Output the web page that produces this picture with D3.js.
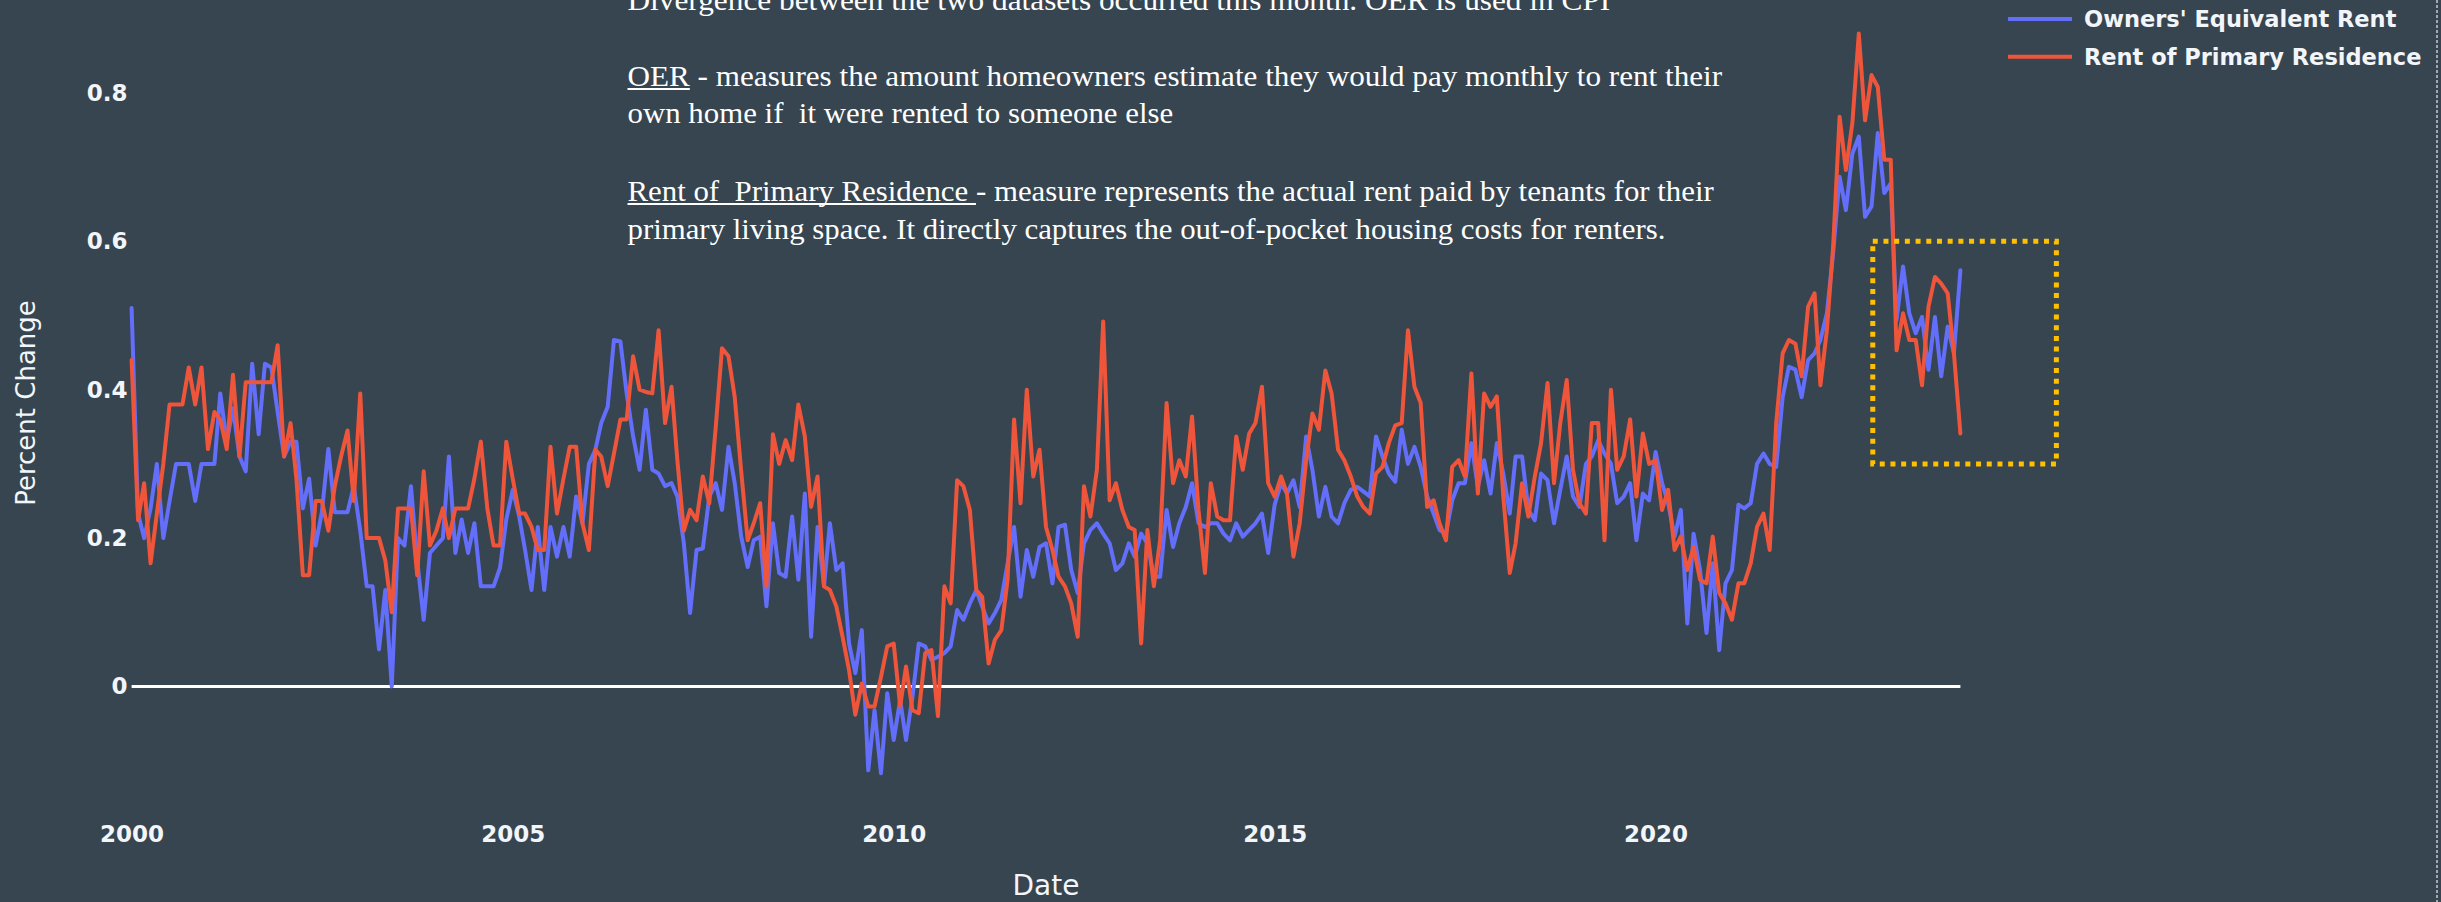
<!DOCTYPE html>
<html>
<head>
<meta charset="utf-8">
<script src="https://cdn.jsdelivr.net/npm/d3@7"></script>
<style>
html,body{margin:0;padding:0;background:#36454f;overflow:hidden}
</style>
</head>
<body>
<svg id="chart" width="2441" height="902"></svg>
<script>
// ---------- DATA (monthly, Jan 2000 .. Jan 2024) ----------
const startYear = 2000;
const seriesNames = ["Owners' Equivalent Rent", "Rent of Primary Residence"];
const oer = [
 0.51,0.233,0.20,0.24,0.30,0.20,0.25,0.30,0.30,0.30,0.25,0.30,
 0.30,0.30,0.395,0.33,0.375,0.31,0.29,0.435,0.34,0.435,0.43,0.37,
 0.31,0.33,0.33,0.24,0.28,0.19,0.235,0.32,0.235,0.235,0.235,0.27,
 0.21,0.135,0.135,0.05,0.13,0.0,0.20,0.19,0.27,0.17,0.09,0.18,
 0.19,0.20,0.31,0.18,0.225,0.18,0.22,0.135,0.135,0.135,0.16,0.225,
 0.265,0.229,0.184,0.13,0.215,0.13,0.215,0.175,0.215,0.175,0.256,0.22,
 0.30,0.319,0.355,0.377,0.467,0.465,0.395,0.337,0.292,0.373,0.292,0.287,
 0.27,0.274,0.256,0.193,0.099,0.184,0.186,0.256,0.274,0.238,0.323,0.274,
 0.202,0.161,0.197,0.202,0.108,0.22,0.153,0.148,0.229,0.144,0.26,0.067,
 0.215,0.135,0.22,0.157,0.166,0.058,0.018,0.076,-0.113,-0.032,-0.117,-0.009,
 -0.072,-0.018,-0.072,-0.014,0.058,0.054,0.036,0.04,0.045,0.054,0.103,0.09,
 0.112,0.13,0.108,0.085,0.099,0.117,0.166,0.215,0.121,0.184,0.148,0.188,
 0.193,0.139,0.215,0.218,0.157,0.126,0.193,0.211,0.22,0.206,0.193,0.157,
 0.166,0.193,0.175,0.206,0.193,0.148,0.148,0.238,0.188,0.22,0.242,0.274,
 0.22,0.215,0.22,0.22,0.206,0.197,0.22,0.202,0.211,0.22,0.233,0.18,
 0.245,0.274,0.26,0.278,0.242,0.337,0.292,0.229,0.269,0.229,0.22,0.247,
 0.265,0.269,0.263,0.256,0.337,0.31,0.287,0.276,0.346,0.30,0.323,0.296,
 0.256,0.233,0.211,0.206,0.251,0.274,0.274,0.328,0.269,0.305,0.26,0.328,
 0.287,0.233,0.31,0.31,0.238,0.224,0.287,0.278,0.22,0.265,0.31,0.256,
 0.242,0.30,0.31,0.332,0.314,0.30,0.247,0.256,0.274,0.197,0.26,0.251,
 0.316,0.274,0.247,0.202,0.238,0.085,0.206,0.157,0.072,0.166,0.049,0.139,
 0.157,0.245,0.24,0.247,0.30,0.314,0.30,0.296,0.39,0.431,0.427,0.39,
 0.44,0.449,0.467,0.503,0.584,0.687,0.642,0.718,0.741,0.633,0.647,0.746,
 0.665,0.678,0.494,0.566,0.503,0.476,0.498,0.427,0.498,0.418,0.485,0.449,
 0.561
];
const rpr = [
 0.44,0.224,0.274,0.166,0.233,0.30,0.38,0.38,0.38,0.43,0.38,0.43,
 0.32,0.37,0.36,0.32,0.42,0.31,0.41,0.41,0.41,0.41,0.41,0.46,
 0.31,0.355,0.28,0.15,0.15,0.25,0.25,0.21,0.27,0.31,0.345,0.25,
 0.395,0.20,0.20,0.20,0.17,0.10,0.24,0.24,0.24,0.15,0.29,0.19,
 0.21,0.24,0.20,0.24,0.24,0.24,0.28,0.33,0.24,0.19,0.19,0.33,
 0.28,0.233,0.233,0.215,0.184,0.184,0.323,0.233,0.28,0.323,0.323,0.22,
 0.184,0.319,0.31,0.27,0.314,0.36,0.36,0.445,0.40,0.397,0.395,0.48,
 0.355,0.404,0.305,0.21,0.238,0.224,0.283,0.247,0.35,0.456,0.445,0.39,
 0.29,0.197,0.22,0.247,0.135,0.34,0.30,0.332,0.305,0.38,0.337,0.242,
 0.283,0.135,0.13,0.108,0.067,0.022,-0.038,0.004,-0.027,-0.027,0.013,0.054,
 0.058,-0.027,0.027,-0.032,-0.036,0.045,0.049,-0.04,0.135,0.112,0.278,0.27,
 0.238,0.13,0.121,0.031,0.063,0.076,0.144,0.36,0.247,0.40,0.283,0.319,
 0.215,0.184,0.148,0.135,0.112,0.067,0.27,0.229,0.292,0.492,0.251,0.274,
 0.238,0.215,0.211,0.058,0.211,0.135,0.197,0.382,0.274,0.305,0.283,0.364,
 0.238,0.153,0.274,0.229,0.224,0.224,0.337,0.292,0.341,0.355,0.404,0.274,
 0.256,0.283,0.26,0.175,0.22,0.305,0.368,0.346,0.426,0.395,0.319,0.305,
 0.283,0.256,0.242,0.233,0.287,0.296,0.328,0.352,0.355,0.48,0.404,0.382,
 0.242,0.251,0.22,0.197,0.296,0.305,0.283,0.422,0.26,0.395,0.377,0.391,
 0.256,0.153,0.193,0.274,0.229,0.283,0.328,0.409,0.274,0.355,0.413,0.292,
 0.247,0.233,0.355,0.355,0.197,0.40,0.292,0.31,0.36,0.256,0.341,0.30,
 0.305,0.238,0.265,0.184,0.202,0.157,0.188,0.144,0.139,0.202,0.126,0.112,
 0.09,0.139,0.139,0.166,0.215,0.233,0.184,0.355,0.449,0.467,0.462,0.418,
 0.512,0.53,0.406,0.48,0.593,0.768,0.696,0.759,0.88,0.763,0.824,0.808,
 0.71,0.71,0.453,0.503,0.467,0.467,0.406,0.512,0.552,0.543,0.53,0.449,
 0.341
];
const yTickValues = [0, 0.2, 0.4, 0.6, 0.8];
const xTickYears = [2000, 2005, 2010, 2015, 2020];
const boxDates = ["2022-11-07", "2025-04-05"];
const boxValues = [0.3, 0.6];
const noteLines = [
  [{t:"Divergence between the two datasets occurred this month. OER is used in CPI"}],
  [{t:"OER", u:true}, {t:" - measures the amount homeowners estimate they would pay monthly to rent their"}],
  [{t:"own home if  it were rented to someone else"}],
  [{t:"Rent of  Primary Residence ", u:true}, {t:"- measure represents the actual rent paid by tenants for their"}],
  [{t:"primary living space. It directly captures the out-of-pocket housing costs for renters."}]
];

// ---------- LAYOUT / STYLE ----------
const W = 2441, H = 902;
const BG = "#36454f", FG = "#f2f5fa";
const colors = ["#636efa", "#ef553b"];
const svg = d3.select("#chart");
svg.append("rect").attr("width", W).attr("height", H).attr("fill", BG);

const d0 = new Date(Date.UTC(startYear, 0, 1));
const dates = oer.map((_, i) => d3.utcMonth.offset(d0, i));
const x = d3.scaleUtc().domain([d0, new Date(Date.UTC(2024, 0, 1))]).range([131.6, 1960.4]);
const y = d3.scaleLinear().domain([0, 0.8]).range([686.5, 92.9]);

// y axis
const yAxis = svg.append("g").attr("transform", `translate(${x(d0)},0)`)
  .call(d3.axisLeft(y).tickValues(yTickValues).tickSize(0).tickPadding(4)
    .tickFormat(d => d === 0 ? "0" : d3.format(".1f")(d)));
yAxis.select(".domain").remove();
yAxis.selectAll("text").attr("fill", FG).attr("font-family", "DejaVu Sans")
  .attr("font-weight", "bold").attr("font-size", 23);

// x axis
const xAxis = svg.append("g").attr("transform", `translate(0,820)`)
  .call(d3.axisBottom(x).tickValues(xTickYears.map(yr => new Date(Date.UTC(yr, 0, 1))))
    .tickSize(0).tickPadding(5.5).tickFormat(d3.utcFormat("%Y")));
xAxis.select(".domain").remove();
xAxis.selectAll("text").attr("fill", FG).attr("font-family", "DejaVu Sans")
  .attr("font-weight", "bold").attr("font-size", 23);

// axis titles
svg.append("text").attr("transform", "translate(25.5,403) rotate(-90)")
  .attr("text-anchor", "middle").attr("dominant-baseline", "central")
  .attr("fill", FG).attr("font-family", "DejaVu Sans").attr("font-size", 26)
  .text("Percent Change");
svg.append("text").attr("x", (x.range()[0] + x.range()[1]) / 2).attr("y", 895)
  .attr("text-anchor", "middle").attr("fill", FG).attr("font-family", "DejaVu Sans")
  .attr("font-size", 28).text("Date");

// zero line
svg.append("line").attr("x1", x(dates[0])).attr("x2", x(dates[dates.length - 1]))
  .attr("y1", y(0)).attr("y2", y(0)).attr("stroke", "#ffffff").attr("stroke-width", 3.2);

// series lines
const line = d3.line().x(d => x(d.date)).y(d => y(d.v));
[oer, rpr].forEach((arr, si) => {
  const pts = arr.map((v, i) => ({date: dates[i], v}));
  svg.append("path").datum(pts).attr("d", line).attr("fill", "none")
    .attr("stroke", colors[si]).attr("stroke-width", 4)
    .attr("stroke-linejoin", "round").attr("stroke-linecap", "round");
});

// highlight box
const bx0 = x(new Date(boxDates[0])), bx1 = x(new Date(boxDates[1]));
svg.append("rect").attr("x", bx0).attr("y", y(boxValues[1]))
  .attr("width", bx1 - bx0).attr("height", y(boxValues[0]) - y(boxValues[1]))
  .attr("fill", "none").attr("stroke", "#ffc000").attr("stroke-width", 5)
  .attr("stroke-dasharray", "5 5.7");

// legend
seriesNames.forEach((name, i) => {
  const ly = 19 + i * 37.7;
  svg.append("line").attr("x1", 2008).attr("x2", 2072).attr("y1", ly).attr("y2", ly)
    .attr("stroke", colors[i]).attr("stroke-width", 4);
  svg.append("text").attr("x", 2084).attr("y", ly).attr("dominant-baseline", "central")
    .attr("fill", FG).attr("font-family", "DejaVu Sans").attr("font-weight", "bold")
    .attr("font-size", 22.5).text(name);
});

// right-edge dashed border
svg.append("line").attr("x1", 2437).attr("x2", 2437).attr("y1", 0).attr("y2", H)
  .attr("stroke", "#c8ccd0").attr("stroke-width", 1.5).attr("stroke-dasharray", "3 2");

// annotation text
const noteX = 627.5;
const noteBaselines = [10, 86, 123, 201, 239];
const noteWidths = [983, 1095, 546, 1087, 1038];
noteLines.forEach((parts, li) => {
  const g = svg.append("g");
  const t = g.append("text").attr("x", 0).attr("y", 0).attr("fill", "#ffffff")
    .attr("font-family", "Liberation Serif").attr("font-size", 30)
    .style("white-space", "pre");
  parts.forEach(p => t.append("tspan").text(p.t));
  const total = t.node().getComputedTextLength();
  const sx = noteWidths[li] / total;
  g.attr("transform", `translate(${noteX},${noteBaselines[li]}) scale(${sx},1)`);
  let off = 0;
  t.selectAll("tspan").each(function(d, j) {
    const w = this.getComputedTextLength();
    if (parts[j].u) {
      g.append("line").attr("x1", off).attr("x2", off + w).attr("y1", 3).attr("y2", 3)
        .attr("stroke", "#ffffff").attr("stroke-width", 1.8);
    }
    off += w;
  });
});
</script>
</body>
</html>
